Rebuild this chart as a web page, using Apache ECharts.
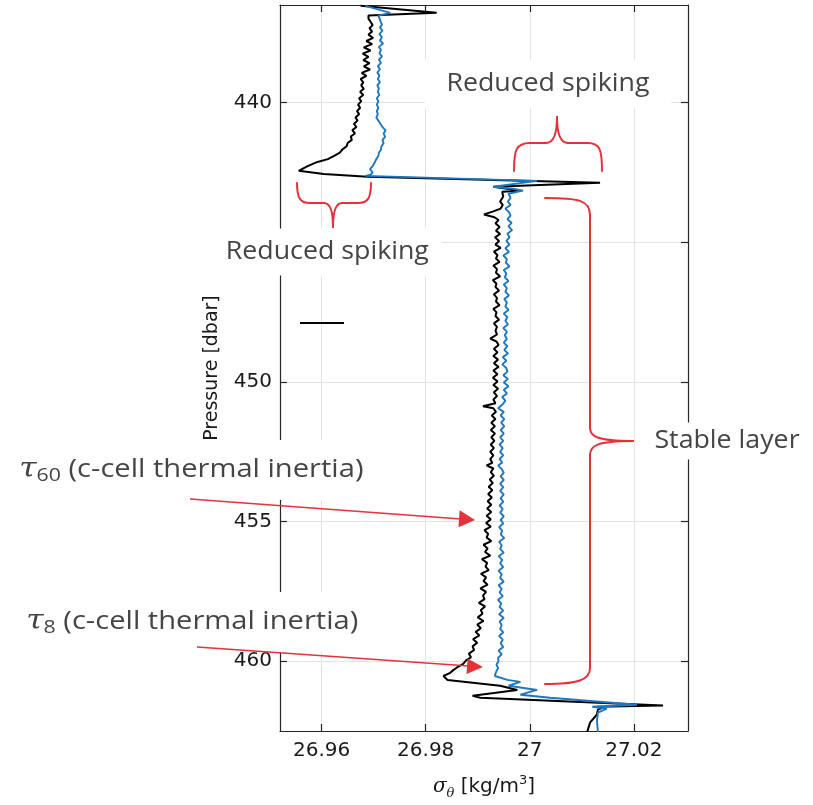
<!DOCTYPE html>
<html>
<head>
<meta charset="utf-8">
<script src="https://cdn.jsdelivr.net/npm/echarts@6/dist/echarts.min.js"></script>
<style>html,body{margin:0;padding:0;background:#fff;}#c{width:813px;height:805px;}</style>
</head>
<body>
<div id="c"></div>
<script>
// Black profile: [sigma_theta, pressure]
var blackTop = [[26.9675,436.53],[26.9821,436.78],[26.9690,436.88],[26.9690,436.99],[26.9694,437.10],[26.9698,437.22],
[26.9692,437.33],[26.9697,437.45],[26.9690,437.56],[26.9699,437.68],[26.9686,437.79],[26.9697,437.90],[26.9681,438.02],
[26.9694,438.13],[26.9679,438.24],[26.9690,438.36],[26.9680,438.47],[26.9692,438.58],[26.9681,438.70],[26.9693,438.81],
[26.9677,438.93],[26.9686,439.04],[26.9675,439.15],[26.9680,439.27],[26.9676,439.38],[26.9681,439.50],[26.9674,439.61],
[26.9680,439.72],[26.9672,439.84],[26.9676,439.95],[26.9670,440.07],[26.9674,440.18],[26.9668,440.30],[26.9672,440.41],
[26.9665,440.53],[26.9669,440.64],[26.9662,440.76],[26.9667,440.87],[26.9659,440.98],[26.9664,441.10],[26.9656,441.21],
[26.9658,441.33],[26.9650,441.44],[26.9648,441.56],[26.9640,441.67],[26.9635,441.79],[26.9624,441.90],[26.9612,442.02],
[26.9592,442.12],[26.9573,442.27],[26.9556,442.44],[26.9604,442.55],[26.9688,442.65],[27.0135,442.87],[26.9930,443.01],
[26.9982,443.15],[26.9947,443.19]];
var blackMid = [[26.9949,443.36],[26.9943,443.54],[26.9948,443.66],[26.9944,443.79],[26.9930,443.89],[26.9912,444.00],
[26.9932,444.10],[26.9940,444.20],[26.9934,444.32],[26.9942,444.45],[26.9935,444.58],[26.9943,444.70],[26.9933,444.82],
[26.9941,444.95],[26.9934,445.08],[26.9944,445.20],[26.9931,445.33],[26.9938,445.46],[26.9935,445.58],[26.9942,445.70],
[26.9930,445.83],[26.9937,445.96],[26.9935,446.09],[26.9943,446.22],[26.9929,446.35],[26.9936,446.48],[26.9934,446.60],
[26.9941,446.73],[26.9931,446.86],[26.9937,446.99],[26.9935,447.12],[26.9942,447.25],[26.9930,447.38],[26.9936,447.51],
[26.9934,447.64],[26.9941,447.77],[26.9931,447.90],[26.9937,448.03],[26.9934,448.16],[26.9937,448.30],[26.9924,448.45],
[26.9936,448.55],[26.9940,448.68],[26.9931,448.81],[26.9938,448.94],[26.9930,449.07],[26.9939,449.20],[26.9931,449.33],
[26.9940,449.46],[26.9930,449.59],[26.9938,449.72],[26.9929,449.85],[26.9938,449.98],[26.9930,450.11],[26.9939,450.24],
[26.9931,450.37],[26.9937,450.50],[26.9930,450.63],[26.9934,450.76],[26.9910,450.87],[26.9930,450.94],[26.9935,451.07],
[26.9927,451.20],[26.9934,451.33],[26.9926,451.46],[26.9933,451.59],[26.9925,451.72],[26.9933,451.85],[26.9926,451.98],
[26.9932,452.11],[26.9925,452.24],[26.9931,452.37],[26.9924,452.50],[26.9930,452.63],[26.9924,452.76],[26.9928,452.90],
[26.9917,452.99],[26.9930,453.10],[26.9925,453.23],[26.9931,453.36],[26.9923,453.49],[26.9929,453.62],[26.9921,453.75],
[26.9928,453.88],[26.9920,454.01],[26.9927,454.14],[26.9919,454.27],[26.9926,454.40],[26.9918,454.53],[26.9926,454.66],
[26.9917,454.79],[26.9925,454.92],[26.9916,455.05],[26.9925,455.18],[26.9913,455.31],[26.9920,455.44],[26.9917,455.57],
[26.9926,455.70],[26.9911,455.83],[26.9919,455.96],[26.9914,456.09],[26.9924,456.22],[26.9908,456.35],[26.9918,456.48],
[26.9915,456.61],[26.9921,456.74],[26.9906,456.87],[26.9916,457.00],[26.9911,457.13],[26.9919,457.26],[26.9905,457.39],
[26.9916,457.52],[26.9910,457.65],[26.9913,457.78],[26.9902,457.91],[26.9914,458.04],[26.9906,458.17],[26.9909,458.30],
[26.9900,458.43],[26.9911,458.56],[26.9899,458.69],[26.9906,458.82],[26.9896,458.95],[26.9903,459.08],[26.9891,459.21],
[26.9899,459.34],[26.9890,459.47],[26.9893,459.60],[26.9883,459.73],[26.9887,459.86],[26.9878,459.96]];
var blackBottom = [[26.9872,460.10],[26.9862,460.20],[26.9853,460.32],[26.9846,460.43],[26.9834,460.53],[26.9842,460.67],
[26.9943,460.88],[26.9976,461.03],[26.9890,461.24],[26.9905,461.31],[27.0256,461.59],[27.0129,461.63],[27.0141,461.66],
[27.0131,461.73],[27.0129,461.91],[27.0116,462.19],[27.0110,462.55]];

// Blue profile: [sigma_theta, pressure]
var blueTop = [[26.9684,436.53],[26.9732,436.78],[26.9709,436.88],[26.9711,436.96],[26.9713,437.08],[26.9716,437.20],
[26.9712,437.31],[26.9717,437.42],[26.9711,437.54],[26.9716,437.65],[26.9712,437.77],[26.9718,437.88],[26.9710,438.00],
[26.9714,438.11],[26.9711,438.23],[26.9716,438.34],[26.9710,438.46],[26.9714,438.57],[26.9708,438.69],[26.9712,438.80],
[26.9707,438.92],[26.9711,439.03],[26.9708,439.15],[26.9712,439.26],[26.9707,439.38],[26.9710,439.49],[26.9708,439.61],
[26.9711,439.72],[26.9706,439.84],[26.9709,439.95],[26.9706,440.07],[26.9709,440.18],[26.9706,440.30],[26.9708,440.41],
[26.9705,440.53],[26.9709,440.64],[26.9713,440.76],[26.9717,440.87],[26.9723,440.99],[26.9719,441.10],[26.9722,441.22],
[26.9717,441.33],[26.9719,441.45],[26.9715,441.56],[26.9714,441.68],[26.9710,441.79],[26.9709,441.91],[26.9705,442.02],
[26.9702,442.14],[26.9698,442.27],[26.9693,442.38],[26.9690,442.44],[26.9698,442.50],[26.9694,442.58],[26.9684,442.62],
[27.0014,442.80],[26.9930,443.01],[26.9968,443.08],[26.9987,443.15],[26.9959,443.26]];
var blueMid = [[26.9963,443.40],[26.9958,443.54],[26.9963,443.66],[26.9953,443.79],[26.9960,443.92],[26.9963,444.04],
[26.9957,444.17],[26.9965,444.30],[26.9959,444.43],[26.9966,444.56],[26.9957,444.69],[26.9961,444.82],[26.9955,444.95],
[26.9961,445.08],[26.9953,445.21],[26.9960,445.34],[26.9949,445.47],[26.9956,445.60],[26.9954,445.73],[26.9961,445.86],
[26.9950,445.99],[26.9955,446.12],[26.9952,446.25],[26.9959,446.38],[26.9950,446.51],[26.9956,446.64],[26.9953,446.77],
[26.9960,446.90],[26.9951,447.03],[26.9956,447.16],[26.9953,447.29],[26.9959,447.42],[26.9950,447.55],[26.9957,447.68],
[26.9953,447.81],[26.9958,447.94],[26.9949,448.07],[26.9956,448.20],[26.9952,448.33],[26.9956,448.46],[26.9950,448.59],
[26.9957,448.72],[26.9951,448.85],[26.9958,448.98],[26.9948,449.11],[26.9955,449.24],[26.9947,449.37],[26.9955,449.50],
[26.9957,449.63],[26.9949,449.76],[26.9958,449.89],[26.9950,450.02],[26.9959,450.15],[26.9950,450.28],[26.9956,450.41],
[26.9947,450.54],[26.9953,450.67],[26.9948,450.80],[26.9939,450.94],[26.9950,451.07],[26.9944,451.20],[26.9951,451.33],
[26.9945,451.46],[26.9951,451.59],[26.9944,451.72],[26.9950,451.85],[26.9943,451.98],[26.9949,452.11],[26.9942,452.24],
[26.9948,452.37],[26.9943,452.50],[26.9949,452.63],[26.9942,452.76],[26.9947,452.89],[26.9939,452.99],[26.9946,453.12],
[26.9950,453.25],[26.9944,453.38],[26.9950,453.51],[26.9943,453.64],[26.9949,453.77],[26.9943,453.90],[26.9950,454.03],
[26.9944,454.16],[26.9949,454.29],[26.9942,454.42],[26.9948,454.55],[26.9943,454.68],[26.9950,454.81],[26.9944,454.94],
[26.9949,455.07],[26.9941,455.20],[26.9947,455.33],[26.9944,455.46],[26.9951,455.59],[26.9941,455.72],[26.9946,455.85],
[26.9943,455.98],[26.9950,456.11],[26.9940,456.24],[26.9947,456.37],[26.9943,456.50],[26.9949,456.63],[26.9940,456.76],
[26.9946,456.89],[26.9943,457.02],[26.9950,457.15],[26.9940,457.28],[26.9946,457.41],[26.9942,457.54],[26.9948,457.67],
[26.9939,457.80],[26.9945,457.93],[26.9942,458.06],[26.9949,458.19],[26.9941,458.32],[26.9950,458.45],[26.9942,458.58],
[26.9946,458.71],[26.9943,458.84],[26.9949,458.97],[26.9941,459.10],[26.9948,459.23],[26.9944,459.36],[26.9949,459.49],
[26.9940,459.62],[26.9946,459.75],[26.9939,459.88],[26.9940,460.00],[26.9936,460.12],[26.9939,460.25],[26.9936,460.35],
[26.9934,460.45],[26.9933,460.53]];
var blueBottom = [[26.9957,460.67],[26.9982,460.74],[26.9959,460.88],[27.0014,461.03],[26.9982,461.20],[27.0039,461.31],
[27.0206,461.56],[27.0120,461.63],[27.0148,461.70],[27.0131,461.84],[27.0129,462.12],[27.0131,462.55]];

var xTicks = [26.96, 26.98, 27, 27.02];
var yTicks = [440, 445, 450, 455, 460];

var chart = echarts.init(document.getElementById('c'));
var axisCol = '#262626';
var gridCol = '#e3e3e3';
var red = '#e5323a';
var annCol = '#454545';

function xAx(pos, labels) {
  return {
    type: 'value', position: pos, min: 26.952, max: 27.0304,
    axisLine: { show: true, onZero: false, lineStyle: { color: axisCol, width: 1.2 } },
    axisTick: { show: true, inside: true, length: 7, customValues: xTicks, lineStyle: { color: axisCol, width: 1.2 } },
    axisLabel: { show: labels, customValues: xTicks, color: '#1a1a1a', fontFamily: 'DejaVu Sans', fontSize: 20, margin: 10 },
    splitLine: { show: labels, lineStyle: { color: gridCol, width: 1 } },
    name: labels ? '{s|σ}{th|θ} [kg/m{sup|3}]' : '',
    nameLocation: 'middle', nameGap: 42,
    nameTextStyle: {
      color: '#1a1a1a', fontFamily: 'DejaVu Sans', fontSize: 20,
      rich: {
        s: { fontFamily: 'DejaVu Serif', fontStyle: 'italic', fontSize: 20, color: '#1a1a1a' },
        th: { fontFamily: 'DejaVu Serif', fontStyle: 'italic', fontSize: 13, color: '#1a1a1a', padding: [14, 0, 0, 0] },
        sup: { fontFamily: 'DejaVu Sans', fontSize: 13, color: '#1a1a1a', padding: [0, 0, 12, 0] }
      }
    }
  };
}
function yAx(pos, labels) {
  return {
    type: 'value', position: pos, inverse: true, min: 436.5, max: 462.5,
    axisLine: { show: true, onZero: false, lineStyle: { color: axisCol, width: 1.2 } },
    axisTick: { show: true, inside: true, length: 7, customValues: yTicks, lineStyle: { color: axisCol, width: 1.2 } },
    axisLabel: { show: labels, customValues: yTicks, color: '#1a1a1a', fontFamily: 'DejaVu Sans', fontSize: 20, margin: 8 },
    splitLine: { show: labels, lineStyle: { color: gridCol, width: 1 } },
    name: labels ? 'Pressure [dbar]' : '',
    nameLocation: 'middle', nameGap: 58,
    nameTextStyle: { color: '#1a1a1a', fontFamily: 'DejaVu Sans', fontSize: 19 }
  };
}

function annText(txt, x, y, pad, size, sx) {
  return {
    type: 'text', z: 100, x: x, y: y, scaleX: sx,
    style: { text: txt, font: size + 'px "Open Sans"', fill: annCol, align: 'center', verticalAlign: 'middle',
             backgroundColor: '#fff', padding: pad }
  };
}
function tauText(sub, x, y) {
  return {
    type: 'text', z: 100, x: x, y: y, scaleX: 1.12,
    style: {
      text: '{t|τ}{s|' + sub + '} (c-cell thermal inertia)', font: '26px "Open Sans"', fill: annCol, verticalAlign: 'middle',
      backgroundColor: '#fff', padding: [13, 6, 13, 2],
      rich: {
        t: { fontFamily: 'DejaVu Serif', fontStyle: 'italic', fontSize: 28, fill: annCol, lineHeight: 34 },
        s: { fontFamily: 'Open Sans', fontSize: 19, fill: annCol, padding: [11, 0, 0, 0], lineHeight: 34 }
      }
    }
  };
}
// simple path -> line / bezierCurve graphic elements (annotation shapes, pixel space)
function pathEls(d) {
  var t = d.replace(/([MLC])/g, ' $1 ').replace(/,/g, ' ').trim().split(/\s+/);
  var els = [], cx = 0, cy = 0, i = 0, cmd = null;
  while (i < t.length) {
    if (t[i] === 'M' || t[i] === 'L' || t[i] === 'C') { cmd = t[i]; i++; continue; }
    var st = { stroke: red, fill: null, lineWidth: 2, lineCap: 'round' };
    if (cmd === 'M') { cx = +t[i]; cy = +t[i + 1]; i += 2; }
    else if (cmd === 'L') { var x = +t[i], y = +t[i + 1]; els.push({ type: 'line', z: 101, shape: { x1: cx, y1: cy, x2: x, y2: y }, style: st }); cx = x; cy = y; i += 2; }
    else if (cmd === 'C') {
      var a = t.slice(i, i + 6).map(Number);
      els.push({ type: 'bezierCurve', z: 101, shape: { x1: cx, y1: cy, cpx1: a[0], cpy1: a[1], cpx2: a[2], cpy2: a[3], x2: a[4], y2: a[5] }, style: st });
      cx = a[4]; cy = a[5]; i += 6;
    } else i++;
  }
  return els;
}

var graphics = [
  annText('Reduced spiking', 548, 84, [12, 20, 12, 20], 25, 1.07),
  annText('Reduced spiking', 322, 252, [10, 12, 12, 22], 25, 1.07),
  annText('Stable layer', 727, 441, [6, 4, 6, 4], 25, 1.07),
  tauText('60', 17, 470),
  tauText('8', 24, 622),
  { type: 'line', z: 101, shape: { x1: 190, y1: 499, x2: 461, y2: 519 }, style: { stroke: red, lineWidth: 1.5 } },
  { type: 'polygon', z: 101, shape: { points: [[475, 520], [458.5, 527.3], [459.6, 510.3]] }, style: { fill: red } },
  { type: 'line', z: 101, shape: { x1: 197, y1: 647, x2: 469, y2: 666 }, style: { stroke: red, lineWidth: 1.5 } },
  { type: 'polygon', z: 101, shape: { points: [[483, 667], [466.5, 673.9], [467.6, 658.4]] }, style: { fill: red } },
  { type: 'line', z: 101, shape: { x1: 300, y1: 323, x2: 344, y2: 323 }, style: { stroke: '#000', lineWidth: 2 } }
];
graphics = graphics
  .concat(pathEls('M514,171 C514,150 516,143 530,143 L546,143 C553,143 557,136 557,117 C557,136 561,143 568,143 L588,143 C600,143 602,150 602,171'))
  .concat(pathEls('M297,183 C297,198 300,203 310,203 L324,203 C330,203 333,210 333,227 C333,210 336,203 342,203 L358,203 C368,203 371,198 371,183'))
  .concat(pathEls('M545,198 C578,198 590,200 590,215 L590,428 C590,436 596,441 633,441 C596,441 590,446 590,455 L590,668 C590,680 578,684 545,684'));

var option = {
  animation: false,
  backgroundColor: '#fff',
  grid: { left: 280, right: 125, top: 5, bottom: 67 },
  xAxis: [xAx('bottom', true), xAx('top', false)],
  yAxis: [yAx('left', true), yAx('right', false)],
  series: [
    { type: 'line', name: 'black', xAxisIndex: 0, yAxisIndex: 0, data: blackTop.concat(blackMid, blackBottom),
      showSymbol: false, clip: true, lineStyle: { color: '#000', width: 2 }, z: 3 },
    { type: 'line', name: 'blue', xAxisIndex: 0, yAxisIndex: 0, data: blueTop.concat(blueMid, blueBottom),
      showSymbol: false, clip: true, lineStyle: { color: '#1f77c0', width: 1.9 }, z: 4 }
  ],
  graphic: graphics
};
chart.setOption(option);
</script>
</body>
</html>
